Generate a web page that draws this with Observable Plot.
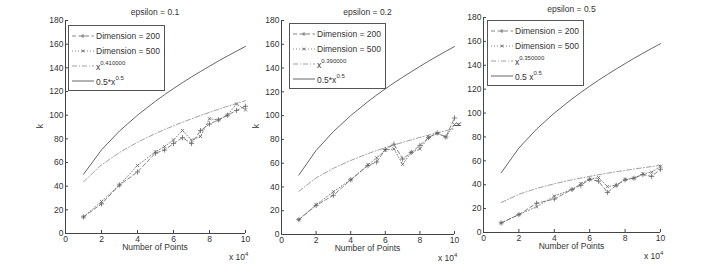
<!DOCTYPE html>
<html>
<head>
<meta charset="utf-8">
<script src="https://cdn.jsdelivr.net/npm/d3@7"></script>
<script src="https://cdn.jsdelivr.net/npm/@observablehq/plot@0.6"></script>
<style>
  html, body { margin: 0; padding: 0; background: #fff; }
  #wrap { position: relative; width: 712px; height: 269px; overflow: hidden; font-family: "Liberation Sans", Arial, sans-serif; color: #333; }
  .abs { position: absolute; white-space: nowrap; }
  .title { font-size: 8.5px; transform: translateX(-50%); }
  .xlab { font-size: 8.5px; transform: translateX(-50%); }
  .x10 { font-size: 8.5px; }
  .x10 sup { font-size: 6px; vertical-align: 4px; }
  .ylab { font-size: 8.5px; transform: rotate(-90deg); transform-origin: center; }
  .legend { border: 1px solid #555; background: #fff; padding: 2px 4px 2px 3px; font-size: 8.5px; }
  .row { display: flex; align-items: center; height: 15px; }
  .row svg { margin-right: 2px; }
  .row sup { font-size: 6px; vertical-align: 5px; }
</style>
</head>
<body>
<div id="wrap"></div>
<script>
// ---- data (x in units of 10^4 points) ----
const xs = [1, 2, 3, 4, 5, 5.5, 6, 6.5, 7, 7.5, 8, 8.5, 9, 9.5, 10];
const xTicks = [0, 2, 4, 6, 8, 10];
const yTicks = [0, 20, 40, 60, 80, 100, 120, 140, 160, 180];

// 0.5*x^0.5 reference
const halfSqrt = [50, 70.7, 86.6, 100, 111.8, 117.3, 122.5, 127.5, 132.3, 136.9, 141.4, 145.8, 150, 154.1, 158.1];

// epsilon = 0.1
const e1_d200 = [14, 25, 41, 52, 68, 70.5, 76, 81, 76, 87, 92.5, 96, 100, 104, 107.5];
const e1_d500 = [14, 27, 41, 57.5, 69, 73.5, 79, 87, 79, 82, 97, 96, 100, 109.5, 104.5];
const e1_pow  = [43.7, 58.0, 68.5, 77.1, 84.5, 87.8, 91.0, 94.0, 96.9, 99.7, 102.4, 105.0, 107.5, 109.9, 112.2];

// epsilon = 0.2
const e2_d200 = [12.5, 24.5, 33, 46, 58, 61, 71.5, 76, 63.5, 69, 75, 81.5, 85.5, 82, 98];
const e2_d500 = [12.5, 25, 36, 46, 58.5, 64.5, 71, 72, 59, 69, 72, 81.5, 85, 82, 92.5];
const e2_pow  = [36.3, 47.6, 55.7, 62.3, 68.0, 70.6, 73.0, 75.3, 77.5, 79.6, 81.7, 83.6, 85.5, 87.3, 89.1];

// epsilon = 0.5
const e3_d200 = [8, 15, 24.5, 28, 36, 39.5, 44.5, 43, 33.5, 39.5, 44, 45.5, 48.5, 47, 53];
const e3_d500 = [8, 15, 21.5, 30.5, 36, 41, 44.5, 46, 38.5, 39.5, 44.5, 45.5, 49, 50.5, 55.5];
const e3_pow  = [25.1, 32.0, 36.9, 40.8, 44.1, 45.6, 47.0, 48.4, 49.6, 50.9, 52.0, 53.1, 54.2, 55.2, 56.2];

const titles = ["epsilon = 0.1", "epsilon = 0.2", "epsilon = 0.5"];
const powLabels = ["0.410000", "0.390000", "0.350000"];
const sqrtLabels = ["0.5*x", "0.5*x", "0.5 x"];
const legendItems = ["Dimension = 200", "Dimension = 500"];

// ---- layout (plot frame in page pixels) ----
const frames = [
  {left: 65,  right: 245, top: 20, bottom: 233},
  {left: 281, right: 454, top: 20, bottom: 234},
  {left: 483, right: 660, top: 17, bottom: 232}
];
const legendPos = [{left: 68, top: 25}, {left: 289, top: 23}, {left: 487, top: 20}];

const wrap = document.getElementById("wrap");
const C_AX = "#444", C_SOLID = "#555", C_DATA = "#666", C_REF = "#888";

function pts(ys) { return xs.map((x, i) => ({x, y: ys[i]})); }

function legendSample(kind) {
  const s = `<svg width="22" height="10" viewBox="0 0 22 10">`;
  let body = "";
  if (kind === "d200") body = `<line x1="0" y1="5" x2="22" y2="5" stroke="${C_DATA}" stroke-width="0.8" stroke-dasharray="4,2.5"/><path d="M9,5h4M11,3v4" stroke="${C_DATA}" stroke-width="0.8"/>`;
  if (kind === "d500") body = `<line x1="0" y1="5" x2="22" y2="5" stroke="${C_DATA}" stroke-width="0.8" stroke-dasharray="1,2"/><path d="M9.6,3.6l2.8,2.8M12.4,3.6l-2.8,2.8" stroke="${C_DATA}" stroke-width="0.8"/>`;
  if (kind === "pow") body = `<line x1="0" y1="5" x2="22" y2="5" stroke="${C_REF}" stroke-width="0.8" stroke-dasharray="5,2,1,2"/>`;
  if (kind === "sq") body = `<line x1="0" y1="5" x2="22" y2="5" stroke="${C_SOLID}" stroke-width="0.9"/>`;
  return s + body + `</svg>`;
}

const sets = [[e1_d200, e1_d500, e1_pow], [e2_d200, e2_d500, e2_pow], [e3_d200, e3_d500, e3_pow]];

sets.forEach(([d200, d500, pow], i) => {
  const f = frames[i];
  const ml = 40, mr = 10, mt = 8, mb = 14;
  const w = f.right - f.left, h = f.bottom - f.top;
  const chart = Plot.plot({
    width: w + ml + mr,
    height: h + mt + mb,
    marginLeft: ml, marginRight: mr, marginTop: mt, marginBottom: mb,
    style: {background: "transparent", fontFamily: "Liberation Sans, Arial, sans-serif", fontSize: "8.5px", color: "#333", overflow: "visible"},
    x: {domain: [0, 10]},
    y: {domain: [0, 180]},
    marks: [
      Plot.axisX(xTicks, {tickSize: -3, tickPadding: 5, label: null, stroke: C_AX, color: "#333"}),
      Plot.axisY(yTicks, {tickSize: -3, tickPadding: 5, label: null, stroke: C_AX, color: "#333"}),
      Plot.ruleX([0], {stroke: C_AX}),
      Plot.ruleY([0], {stroke: C_AX}),
      Plot.line(pts(halfSqrt), {x: "x", y: "y", stroke: C_SOLID, strokeWidth: 0.9}),
      Plot.line(pts(pow), {x: "x", y: "y", stroke: C_REF, strokeWidth: 0.8, strokeDasharray: "5,2,1,2"}),
      Plot.line(pts(d500), {x: "x", y: "y", stroke: C_DATA, strokeWidth: 0.8, strokeDasharray: "1,2"}),
      Plot.dot(pts(d500), {x: "x", y: "y", symbol: "times", r: 1.6, stroke: C_DATA, fill: "none", strokeWidth: 0.8}),
      Plot.line(pts(d200), {x: "x", y: "y", stroke: C_DATA, strokeWidth: 0.8, strokeDasharray: "4,2.5"}),
      Plot.dot(pts(d200), {x: "x", y: "y", symbol: "plus", r: 1.8, stroke: C_DATA, fill: "none", strokeWidth: 0.8})
    ]
  });
  chart.style.position = "absolute";
  chart.style.left = (f.left - ml) + "px";
  chart.style.top = (f.top - mt) + "px";
  wrap.appendChild(chart);

  const cx = (f.left + f.right) / 2;
  const add = (cls, html, css) => {
    const d = document.createElement("div");
    d.className = "abs " + cls;
    d.innerHTML = html;
    Object.assign(d.style, css);
    wrap.appendChild(d);
    return d;
  };
  add("title", titles[i], {left: cx + "px", top: (f.top - 13) + "px"});
  add("xlab", "Number of Points", {left: cx + "px", top: (f.bottom + 9) + "px"});
  add("x10", "x 10<sup>4</sup>", {left: (f.right - 16) + "px", top: (f.bottom + 18) + "px"});
  add("ylab", "k", {left: (f.left - 27) + "px", top: ((f.top + f.bottom) / 2 - 6) + "px"});

  const lp = legendPos[i];
  const lg = add("legend", "", {left: lp.left + "px", top: lp.top + "px"});
  lg.innerHTML =
    `<div class="row">${legendSample("d200")}<span>${legendItems[0]}</span></div>` +
    `<div class="row">${legendSample("d500")}<span>${legendItems[1]}</span></div>` +
    `<div class="row">${legendSample("pow")}<span>x<sup>${powLabels[i]}</sup></span></div>` +
    `<div class="row">${legendSample("sq")}<span>${sqrtLabels[i]}<sup>0.5</sup></span></div>`;
});
</script>
</body>
</html>
